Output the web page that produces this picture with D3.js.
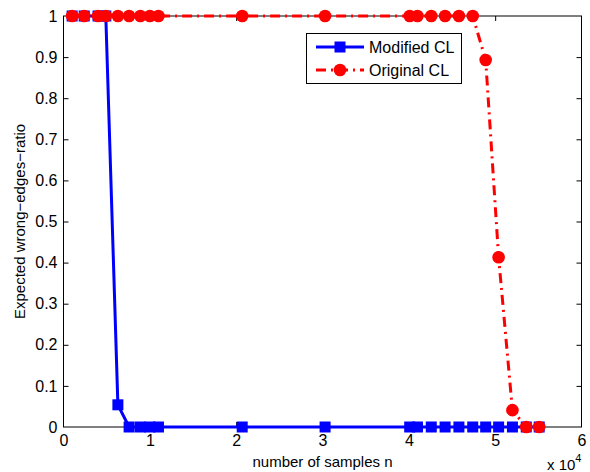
<!DOCTYPE html>
<html><head><meta charset="utf-8">
<script src="https://cdn.jsdelivr.net/npm/d3@7"></script>
<style>body{margin:0;background:#fff}svg{display:block}text{font-family:"Liberation Sans",Arial,sans-serif}</style>
</head><body><svg id="c" width="590" height="472"></svg>
<script>
const samples = [0.1, 0.24, 0.4, 0.49, 0.63, 0.76, 0.89, 1.0, 1.1, 2.07, 3.03, 4.01, 4.1, 4.26, 4.42, 4.58, 4.74, 4.89, 5.04, 5.2, 5.36, 5.51];
const modifiedCL = [1, 1, 1, 1, 0.054, 0, 0, 0, 0, 0, 0, 0, 0, 0, 0, 0, 0, 0, 0, 0, 0, 0];
const originalCL = [1, 1, 1, 1, 1, 1, 1, 1, 1, 1, 1, 1, 1, 1, 1, 1, 1, 0.893, 0.413, 0.041, 0, 0];
const xTicks = [0, 1, 2, 3, 4, 5, 6];
const yTicks = [0, 0.1, 0.2, 0.3, 0.4, 0.5, 0.6, 0.7, 0.8, 0.9, 1];
const seriesNames = ["Modified CL", "Original CL"];

const svg = d3.select("#c");
const L = 63.5, R = 581.5, T = 16, B = 427;
const x = d3.scaleLinear().domain([0, 6]).range([L, R]);
const y = d3.scaleLinear().domain([0, 1]).range([B, T]);
const tl = 5;

// box
svg.append("rect").attr("x", L).attr("y", T).attr("width", R - L).attr("height", B - T)
  .attr("fill", "none").attr("stroke", "#000").attr("stroke-width", 1);

// axes
const fmtY = d => d === 0 || d === 1 ? String(d) : d.toFixed(1);
const xb = svg.append("g").attr("transform", `translate(0,${B})`)
  .call(d3.axisBottom(x).tickValues(xTicks).tickSize(-tl).tickPadding(8).tickFormat(d3.format("d")));
const xt = svg.append("g").attr("transform", `translate(0,${T})`)
  .call(d3.axisTop(x).tickValues(xTicks).tickSize(-tl).tickFormat(""));
const yl = svg.append("g").attr("transform", `translate(${L},0)`)
  .call(d3.axisLeft(y).tickValues(yTicks).tickSize(-tl).tickPadding(6).tickFormat(fmtY));
const yr = svg.append("g").attr("transform", `translate(${R},0)`)
  .call(d3.axisRight(y).tickValues(yTicks).tickSize(-tl).tickFormat(""));
[xb, xt, yl, yr].forEach(g => {
  g.select(".domain").remove();
  g.selectAll(".tick line").attr("stroke", "#000");
  g.selectAll("text").attr("font-size", 16).attr("fill", "#000")
    .attr("font-family", "'Liberation Sans',Arial,sans-serif");
});
xt.selectAll(".tick").filter(d => d === 0 || d === 6).remove();
xb.selectAll(".tick line").filter(d => d === 0 || d === 6).remove();
yl.selectAll(".tick line").filter(d => d === 0 || d === 1).remove();
yr.selectAll(".tick").filter(d => d === 0 || d === 1).remove();

// labels
svg.append("text").attr("x", (L + R) / 2).attr("y", 467).attr("text-anchor", "middle")
  .attr("font-size", 15).text("number of samples n");
svg.append("text").attr("transform", `translate(25,${(T + B) / 2}) rotate(-90)`)
  .attr("text-anchor", "middle").attr("font-size", 15).text("Expected wrong\u2212edges\u2212ratio");
const ex = svg.append("text").attr("x", 547).attr("y", 470).attr("font-size", 15);
ex.append("tspan").text("x 10");
ex.append("tspan").attr("dy", -8).attr("font-size", 11).text("4");

// series
const line = d3.line().x(d => x(d[0])).y(d => y(d[1]));
const blueData = samples.map((s, i) => [s, modifiedCL[i]]);
const redData = samples.map((s, i) => [s, originalCL[i]]);

svg.append("path").datum(blueData).attr("d", line).attr("fill", "none")
  .attr("stroke", "#0000ff").attr("stroke-width", 3);
svg.append("g").selectAll("rect").data(blueData).join("rect")
  .attr("x", d => x(d[0]) - 5.5).attr("y", d => y(d[1]) - 5.5)
  .attr("width", 11).attr("height", 11).attr("fill", "#0000ff");

svg.append("path").datum(redData).attr("d", line).attr("fill", "none")
  .attr("stroke", "#ff0000").attr("stroke-width", 3).attr("stroke-dasharray", "10,5,2,5");
svg.append("g").selectAll("circle").data(redData).join("circle")
  .attr("cx", d => x(d[0])).attr("cy", d => y(d[1])).attr("r", 6.3).attr("fill", "#ff0000");

// legend
const lg = svg.append("g");
lg.append("rect").attr("x", 306.5).attr("y", 33.5).attr("width", 155).attr("height", 50)
  .attr("fill", "#fff").attr("stroke", "#000").attr("stroke-width", 1);
const rows = [
  {name: seriesNames[0], color: "#0000ff", dash: null, marker: "square", yy: 47},
  {name: seriesNames[1], color: "#ff0000", dash: "10,5,2,5", marker: "circle", yy: 70}
];
rows.forEach(r => {
  lg.append("line").attr("x1", 316).attr("x2", 364).attr("y1", r.yy).attr("y2", r.yy)
    .attr("stroke", r.color).attr("stroke-width", 3).attr("stroke-dasharray", r.dash);
  if (r.marker === "square") lg.append("rect").attr("x", 340 - 5.5).attr("y", r.yy - 5.5)
    .attr("width", 11).attr("height", 11).attr("fill", r.color);
  else lg.append("circle").attr("cx", 340).attr("cy", r.yy).attr("r", 6.3).attr("fill", r.color);
  lg.append("text").attr("x", 369).attr("y", r.yy + 5.5).attr("font-size", 16).text(r.name);
});
</script></body></html>
